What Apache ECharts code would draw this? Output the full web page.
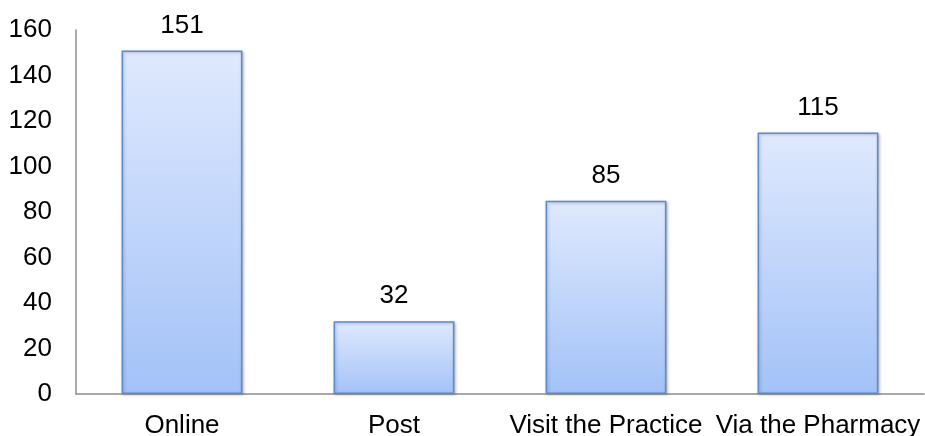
<!DOCTYPE html>
<html>
<head>
<meta charset="utf-8">
<script src="https://cdn.jsdelivr.net/npm/echarts@6/dist/echarts.min.js"></script>
<style>
  html, body { margin: 0; padding: 0; background: #fff; }
  #chart { width: 925px; height: 436px; }
</style>
</head>
<body>
<div id="chart"></div>
<script>
// Channels used and the count for each
const categories = ['Online', 'Post', 'Visit the Practice', 'Via the Pharmacy'];
const counts = [151, 32, 85, 115];
const yTicks = { min: 0, max: 160, interval: 20 };

const chart = echarts.init(document.getElementById('chart'));
const font = '"Liberation Sans", Arial, sans-serif';

chart.setOption({
  animation: false,
  grid: { left: 76, right: 1, top: 30, bottom: 42, containLabel: false, outerBoundsMode: 'none' },
  xAxis: {
    type: 'category',
    data: categories,
    axisLine: { lineStyle: { color: '#8c8c8c', width: 1.5 } },
    axisTick: { show: false },
    axisLabel: { color: '#000', fontSize: 26, fontFamily: font, margin: 19, interval: 0 }
  },
  yAxis: {
    type: 'value',
    min: yTicks.min,
    max: yTicks.max,
    interval: yTicks.interval,
    axisLine: { show: true, lineStyle: { color: '#8c8c8c', width: 1.5 } },
    axisTick: { show: false },
    splitLine: { show: false },
    axisLabel: { color: '#000', fontSize: 26, fontFamily: font, margin: 24 }
  },
  series: [{
    type: 'bar',
    data: counts,
    barWidth: '57%',
    itemStyle: {
      color: new echarts.graphic.LinearGradient(0, 0, 0, 1, [
        { offset: 0, color: '#dfe9fd' },
        { offset: 1, color: '#a3c2f8' }
      ]),
      borderColor: '#5b8bcf',
      borderWidth: 1.5,
      shadowColor: 'rgba(0,0,0,0.25)',
      shadowBlur: 3,
      shadowOffsetX: 1,
      shadowOffsetY: 1
    },
    label: {
      show: true,
      position: 'top',
      distance: 12,
      color: '#000',
      fontSize: 26,
      fontFamily: font
    }
  }]
});
</script>
</body>
</html>
